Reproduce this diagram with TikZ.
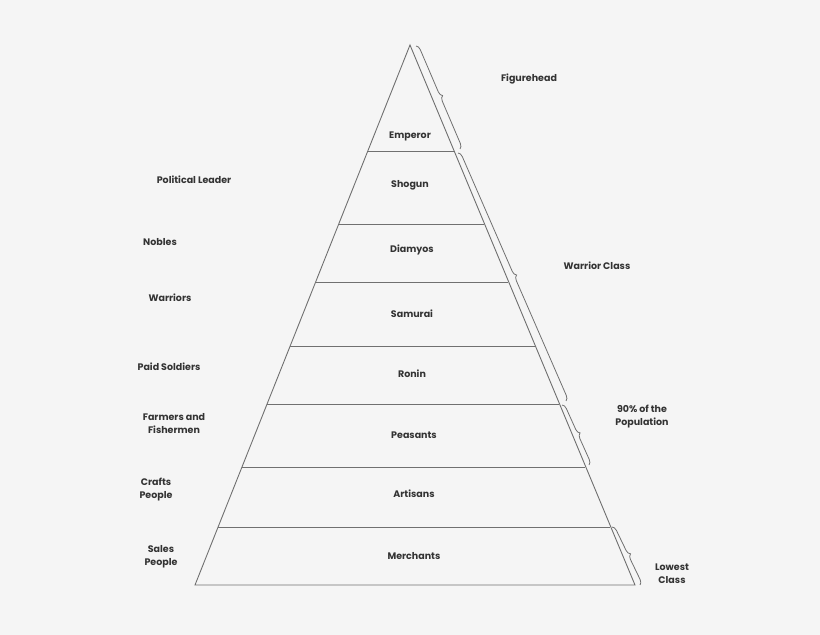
\documentclass[tikz,border=0pt]{standalone}
\usepackage{fontspec}
\setmainfont{Poppins}
\usetikzlibrary{decorations.pathreplacing}
\definecolor{ln}{HTML}{707070}
\definecolor{tx}{HTML}{333333}
\tikzset{lbl/.style={font=\fontsize{9.5}{13}\selectfont\bfseries, text=tx, align=center, inner sep=1pt},
 edge/.style={draw=ln, line width=0.9pt},
 brc/.style={draw=ln, line width=0.8pt, decorate, decoration={brace, amplitude=5pt}}}
\begin{document}
\begin{tikzpicture}[x=1pt,y=-1pt]
\fill[white!96!black] (0,0) rectangle (820,635);
\useasboundingbox (0,0) rectangle (820,635);
\coordinate (A) at (410,45);
\coordinate (BL) at (195,585);
\coordinate (BR) at (635,585);
\draw[edge] (A) -- (BL) -- (BR) -- cycle;
\foreach \y in {151,224,282,346,404,467,527}{
  \draw[edge] ({410-0.398*(\y-45)},\y) -- ({410+0.415*(\y-45)},\y);
}
\node[lbl] (emp) at (410,136) {Emperor};
\node[lbl] (sho) at (410,185) {Shogun};
\node[lbl] (dia) at (412,250) {Diamyos};
\node[lbl] (sam) at (412,314) {Samurai};
\node[lbl] (ron) at (412,374) {Ronin};
\node[lbl] (pea) at (414,435) {Peasants};
\node[lbl] (art) at (414,494) {Artisans};
\node[lbl] (mer) at (414,556) {Merchants};
\node[lbl] (pl) at (194,180) {Political Leader};
\node[lbl] (nob) at (160,242) {Nobles};
\node[lbl] (war) at (170,298) {Warriors};
\node[lbl] (pai) at (169,367) {Paid Soldiers};
\node[lbl] (far) at (174,424) {Farmers and\\Fishermen};
\node[lbl] (cra) at (156,490) {Crafts\\People};
\node[lbl] (sal) at (161,557) {Sales\\People};
\node[lbl] (fig) at (529,79) {Figurehead};
\node[lbl] (wc) at (597,266) {Warrior Class};
\node[lbl] (pop) at (642,417) {90\% of the\\Population};
\node[lbl] (low) at (672,574) {Lowest\\Class};
\coordinate (f1) at (416,46); \coordinate (f2) at (460,149);
\coordinate (w1) at (458,153); \coordinate (w2) at (566,401);
\coordinate (p1) at (562,405); \coordinate (p2) at (589,465);
\coordinate (l1) at (612,527); \coordinate (l2) at (640,585);
\draw[brc] (f1) -- (f2);
\draw[brc] (w1) -- (w2);
\draw[brc] (p1) -- (p2);
\draw[brc] (l1) -- (l2);
\end{tikzpicture}
\end{document}
